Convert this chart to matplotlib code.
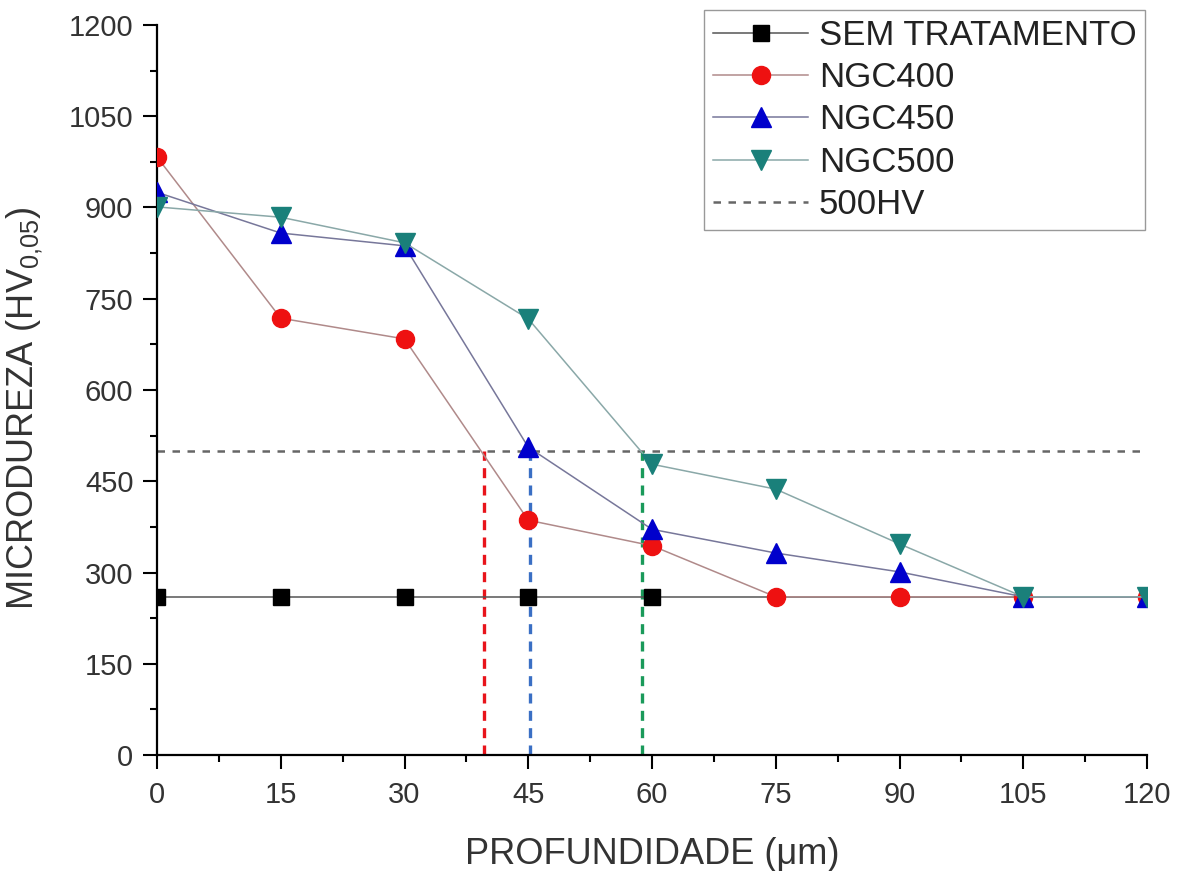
import matplotlib.pyplot as plt
from matplotlib.ticker import MultipleLocator

plt.rcParams['font.family'] = ['Liberation Sans', 'DejaVu Sans']
plt.rcParams['mathtext.fontset'] = 'custom'
plt.rcParams['mathtext.rm'] = 'Liberation Sans'
plt.rcParams['mathtext.default'] = 'regular'

# depth (um)
depth = [0, 15, 30, 45, 60, 75, 90, 105, 120]

sem_tratamento = [260, 260, 260, 260, 260, 260, 260, 260, 260]
ngc400 = [983, 718, 684, 386, 344, 260, 260, 260, 260]
ngc450 = [925, 858, 837, 506, 371, 332, 301, 260, 260]
ngc500 = [901, 884, 842, 717, 478, 437, 347, 260, 260]

limit_hv = 500
# depth where each treatment crosses 500 HV
crossings = [39.6, 45.2, 58.8]
crossing_colors = ['#e8141b', '#3a6fc4', '#1a9a5a']

fig = plt.figure(figsize=(11.83, 8.71), dpi=100)
ax = fig.add_axes([157 / 1183, 1 - 755 / 871, (1147 - 157) / 1183, (755 - 25) / 871])

ax.plot(depth, sem_tratamento, '-', color='#555555', lw=1.1, marker='s', ms=11,
        mfc='black', mec='black', markevery=[0, 1, 2, 3, 4], label='SEM TRATAMENTO', zorder=3)
ax.plot(depth, ngc400, '-', color='#b08a8a', lw=1.1, marker='o', ms=13,
        mfc='#ee1111', mec='#ee1111', label='NGC400', zorder=4)
ax.plot(depth, ngc450, '-', color='#77779a', lw=1.1, marker='^', ms=14,
        mfc='#0000cc', mec='#0000cc', label='NGC450', zorder=5)
ax.plot(depth, ngc500, '-', color='#8aa8a8', lw=1.1, marker='v', ms=14,
        mfc='#1a807a', mec='#1a807a', label='NGC500', zorder=6)
ax.plot([depth[0], depth[-1]], [limit_hv, limit_hv], '--', color='#666666', lw=1.8,
        dashes=(3, 3), label='500HV', zorder=2)

for xc, c in zip(crossings, crossing_colors):
    ax.plot([xc, xc], [0, limit_hv], '--', color=c, lw=2.4, dashes=(3, 2.2), zorder=2)

ax.set_xlim(0, 120)
ax.set_ylim(0, 1200)
ax.xaxis.set_major_locator(MultipleLocator(15))
ax.xaxis.set_minor_locator(MultipleLocator(7.5))
ax.yaxis.set_major_locator(MultipleLocator(150))
ax.yaxis.set_minor_locator(MultipleLocator(75))
ax.tick_params(which='major', direction='out', length=10, width=1.5, labelsize=21, colors='black')
ax.tick_params(which='minor', direction='out', length=5, width=1.5)
ax.tick_params(axis='y', labelcolor='#333333', pad=7)
ax.tick_params(axis='x', labelcolor='#333333', pad=9)

for s in ('top', 'right'):
    ax.spines[s].set_visible(False)
for s in ('left', 'bottom'):
    ax.spines[s].set_linewidth(1.6)

ax.set_xlabel('PROFUNDIDADE (\u03bcm)', fontsize=26, color='#333333', labelpad=20)
ax.set_ylabel('MICRODUREZA (HV$_{0{,}05}$)', fontsize=26, color='#333333')
ax.yaxis.set_label_coords(-0.113, 0.475)

leg = ax.legend(loc='upper right', bbox_to_anchor=(1145 / 1183, 1 - 10 / 871),
                bbox_transform=fig.transFigure, borderaxespad=0, fontsize=25,
                fancybox=False, edgecolor='#999999', framealpha=1,
                handlelength=2.75, handletextpad=0.3, labelspacing=0.27, borderpad=0.25)
for t in leg.get_texts():
    t.set_color('#222222')

fig.savefig('out.png', dpi=100)
